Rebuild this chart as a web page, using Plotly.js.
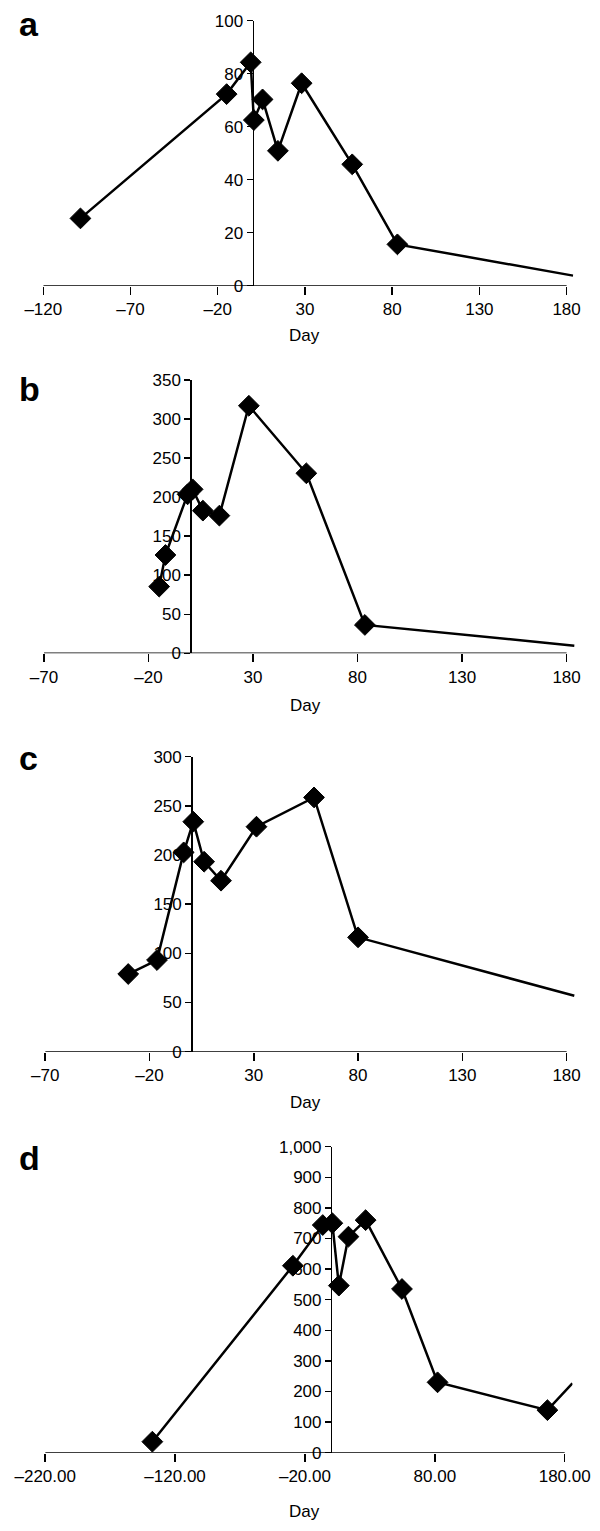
<!DOCTYPE html>
<html>
<head>
<meta charset="utf-8">
<script src="https://cdn.plot.ly/plotly-3.0.1.min.js"></script>
<style>
  html, body { margin: 0; padding: 0; background: #ffffff; }
  #chart { width: 600px; height: 1531px; }
</style>
</head>
<body>
<div id="chart"></div>
<script>
// ---- Data ----
const aDay = [-98.7, -14.9, -1.1, 0.7, 5.7, 14.5, 28.1, 57.1, 83.0, 183.7];
const aVal = [25.4, 72.3, 84.3, 62.5, 70.3, 50.9, 76.4, 45.8, 15.6, 3.8];

const bDay = [-14.9, -11.9, -1.3, 1.1, 6.0, 13.9, 28.0, 55.5, 83.5, 183.7];
const bVal = [85.4, 125.9, 203.6, 210.0, 182.7, 176.3, 317.0, 230.5, 36.3, 9.8];

const cDay = [-30.2, -16.4, -3.6, 1.0, 6.2, 14.3, 31.3, 58.9, 80.0, 183.7];
const cVal = [79.0, 93.2, 202.7, 233.9, 193.2, 173.9, 228.8, 258.6, 116.3, 56.9];

const dDay = [-137.5, -29.3, -6.3, 1.1, 6.1, 13.5, 26.7, 54.7, 82.1, 166.7, 185.9];
const dVal = [36, 611, 744, 750, 546, 706, 760, 535, 230, 139, 227];

const aXTicks = [-120, -70, -20, 30, 80, 130, 180];
const bXTicks = [-70, -20, 30, 80, 130, 180];
const cXTicks = [-70, -20, 30, 80, 130, 180];
const dXTicks = [-220, -120, -20, 80, 180];

const panelLabels = ['a', 'b', 'c', 'd'];
const xTitle = 'Day';

// ---- Layout geometry (pixels in the 600 x 1531 page) ----
const W = 600, H = 1531;
const panels = [
  {day: aDay, val: aVal, ticks: aXTicks, dec: 0, xl: 43.3, x180: 566.6, xmin: -120, xmax: 184, yb: 285.7, yt: 20.7, ymax: 100, dtick: 20, lab: 24, dayY: 335},
  {day: bDay, val: bVal, ticks: bXTicks, dec: 0, xl: 44.0, x180: 566.6, xmin: -70, xmax: 184, yb: 653.3, yt: 380.0, ymax: 350, dtick: 50, lab: 389, dayY: 705},
  {day: cDay, val: cVal, ticks: cXTicks, dec: 0, xl: 45.2, x180: 566.6, xmin: -70, xmax: 184, yb: 1051.7, yt: 756.7, ymax: 300, dtick: 50, lab: 758, dayY: 1102},
  {day: dDay, val: dVal, ticks: dXTicks, dec: 2, xl: 45.2, x180: 564.7, xmin: -220, xmax: 186, yb: 1452.7, yt: 1146.7, ymax: 1000, dtick: 100, lab: 1158, dayY: 1511}
];

const fontFam = '"Liberation Sans", Arial, Helvetica, sans-serif';
const traces = [];
const layout = {
  width: W, height: H,
  margin: {l: 0, r: 0, t: 0, b: 0, pad: 0},
  paper_bgcolor: '#ffffff',
  plot_bgcolor: 'rgba(0,0,0,0)',
  showlegend: false,
  font: {family: fontFam, size: 17, color: '#000000'},
  shapes: [],
  annotations: []
};

function fmtTick(v, dec) {
  const s = Math.abs(v).toFixed(dec);
  return v < 0 ? '\u2013' + s : s;
}

panels.forEach((p, i) => {
  const n = i === 0 ? '' : String(i + 1);
  const xa = 'x' + n, ya = 'y' + n;
  const ppu = (p.x180 - p.xl) / (180 - p.xmin);
  const xRightPx = p.xl + (p.xmax - p.xmin) * ppu;
  const yAxisPx = p.xl + (0 - p.xmin) * ppu;

  const sizes = p.day.map((d, k) => (k === p.day.length - 1 ? 0 : 16));
  traces.push({
    type: 'scatter', mode: 'lines+markers',
    x: p.day, y: p.val, xaxis: xa, yaxis: ya,
    opacity: 1,
    line: {color: '#000000', width: 2.5},
    marker: {symbol: 'diamond', size: sizes, color: '#000000', opacity: 1,
             line: {width: 1, color: '#000000'}},
    hoverinfo: 'skip'
  });

  layout['xaxis' + n] = {
    domain: [p.xl / W, xRightPx / W],
    range: [p.xmin, p.xmax],
    anchor: ya,
    showline: false, showgrid: false, zeroline: false,
    ticks: 'outside', ticklen: 8, tickwidth: 1.5, tickcolor: '#000000',
    tickvals: p.ticks,
    ticktext: p.ticks.map(v => fmtTick(v, p.dec)),
    tickfont: {family: fontFam, size: 17, color: '#000000'},
    fixedrange: true
  };
  layout['yaxis' + n] = {
    domain: [1 - p.yb / H, 1 - p.yt / H],
    range: [0, p.ymax],
    anchor: 'free', position: yAxisPx / W, side: 'left',
    showline: true, linecolor: '#000000', linewidth: 1.5,
    showgrid: false, zeroline: false,
    ticks: 'outside', ticklen: 6, tickwidth: 1.5, tickcolor: '#000000',
    dtick: p.dtick, tick0: 0,
    tickformat: ',d',
    tickfont: {family: fontFam, size: 17, color: '#000000'},
    fixedrange: true
  };
  // x axis line ending at the last tick (180)
  layout.shapes.push({
    type: 'line', xref: xa, yref: ya,
    x0: p.xmin, x1: 180, y0: 0, y1: 0,
    line: {color: '#000000', width: 1.5}
  });
  // axis title "Day"
  layout.annotations.push({
    xref: 'paper', yref: 'paper',
    x: ((p.xl + p.x180) / 2) / W, y: 1 - p.dayY / H,
    xanchor: 'center', yanchor: 'middle',
    text: xTitle, showarrow: false,
    font: {family: fontFam, size: 17, color: '#000000'}
  });
  // panel letter
  layout.annotations.push({
    xref: 'paper', yref: 'paper',
    x: 17 / W, y: 1 - p.lab / H,
    xanchor: 'left', yanchor: 'middle',
    text: '<b>' + panelLabels[i] + '</b>', showarrow: false,
    font: {family: fontFam, size: 34, color: '#000000'}
  });
});

Plotly.newPlot('chart', traces, layout, {displayModeBar: false, staticPlot: true});
</script>
</body>
</html>
